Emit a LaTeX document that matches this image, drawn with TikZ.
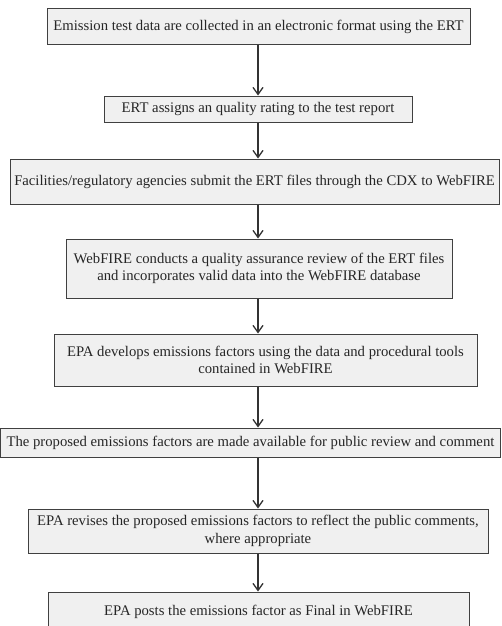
\documentclass[tikz,border=0pt]{standalone}
\usepackage{fontspec}
\setmainfont{Liberation Serif}
\usetikzlibrary{arrows.meta}
\begin{document}
\begin{tikzpicture}[x=1pt,y=-1pt,
  box/.style={draw=black!75, line width=1pt, fill=black!6, text=black!85,
    font=\fontsize{14.7}{17.5}\selectfont, align=center, inner sep=0pt, anchor=center},
  arr/.style={draw=black!80, line width=1.3pt, -{Straight Barb[length=7pt,width=10pt,line width=1.3pt]}}]
\useasboundingbox (0,0) rectangle (501,626);
\fill[white] (0,0) rectangle (501,626);
\coordinate (ax) at (258,0);
\node[box, minimum width=423pt, minimum height=36pt] (b1) at (258.5,27) {Emission test data are collected in an electronic format using the ERT};
\node[box, minimum width=308pt, minimum height=26pt] (b2) at (258,109) {ERT assigns an quality rating to the test report};
\node[box, minimum width=489pt, minimum height=45pt] (b3) at (254.5,181.5) {Facilities/regulatory agencies submit the ERT files through the CDX to WebFIRE};
\node[box, minimum width=386pt, minimum height=59pt] (b4) at (259,268.5) {WebFIRE conducts a quality assurance review of the ERT files\\and incorporates valid data into the WebFIRE database};
\node[box, minimum width=423pt, minimum height=52pt] (b5) at (265.5,360) {EPA develops emissions factors using the data and procedural tools\\contained in WebFIRE};
\node[box, minimum width=500pt, minimum height=29pt] (b6) at (250.5,442.5) {The proposed emissions factors are made available for public review and comment};
\node[box, minimum width=460pt, minimum height=44pt] (b7) at (258,531) {EPA revises the proposed emissions factors to reflect the public comments,\\where appropriate};
\node[box, minimum width=421pt, minimum height=40pt] (b8) at (258.5,612) {EPA posts the emissions factor as Final in WebFIRE};
\foreach \a/\b in {b1/b2,b2/b3,b3/b4,b4/b5,b5/b6,b6/b7,b7/b8}
  \draw[arr] (\a.south -| ax) -- (\b.north -| ax);
\end{tikzpicture}
\end{document}
